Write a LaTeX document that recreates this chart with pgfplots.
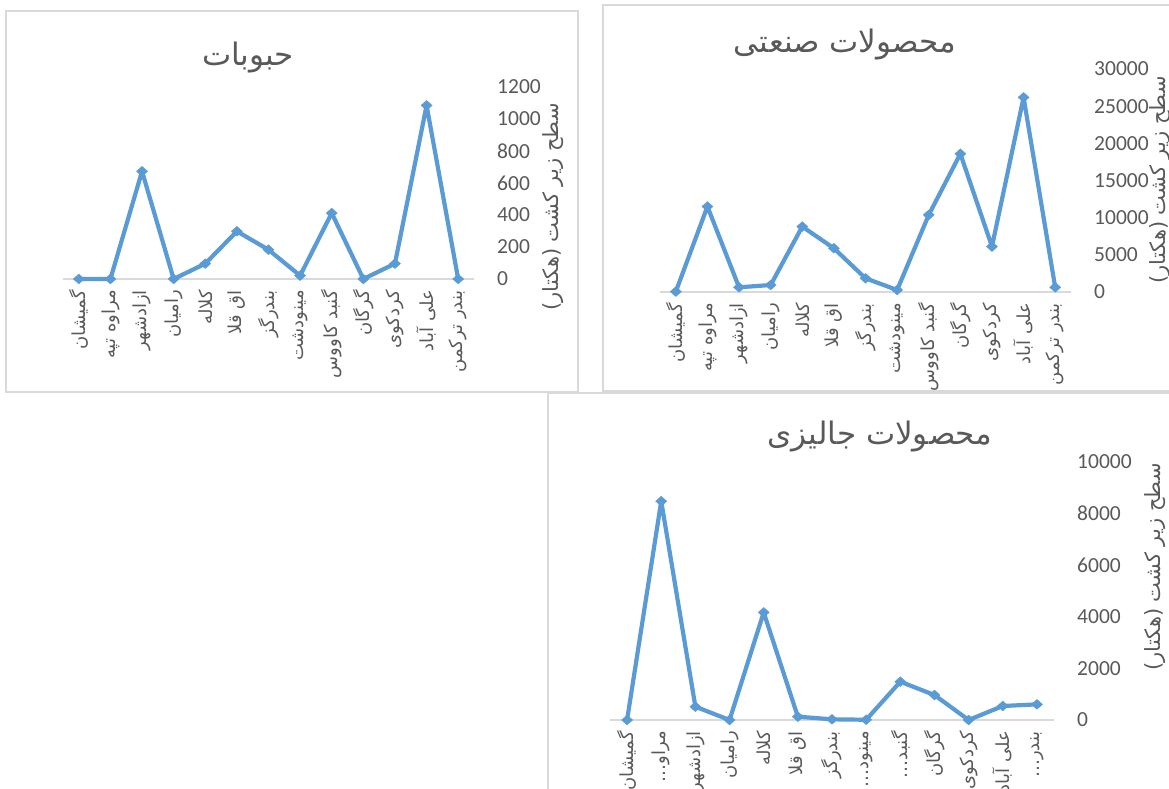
\documentclass[border=0pt]{standalone}
\usepackage{fontspec}
\usepackage{pgfplots}
\pgfplotsset{compat=1.18}
\setmainfont{Carlito}
\newfontfamily\fa[Script=Arabic]{DejaVu Sans}
\TeXXeTstate=1
\definecolor{ln}{RGB}{91,155,213}
\definecolor{txt}{RGB}{89,89,89}
\definecolor{brd}{RGB}{217,217,217}

\pgfplotstableread{
x y
0 0
1 0
2 673
3 0
4 96
5 298
6 183
7 21
8 412
9 0
10 96
11 1085
12 0
}\grains
\pgfplotstableread{
x y
0 50
1 11500
2 630
3 940
4 8800
5 5880
6 1840
7 270
8 10370
9 18590
10 6110
11 26180
12 630
}\industrial
\pgfplotstableread{
x y
0 0
1 8480
2 516
3 0
4 4170
5 129
6 26
7 10
8 1484
9 968
10 0
11 542
12 606
}\jalizi

\pgfplotsset{
  excel/.style={
    scale only axis,
    anchor=south west,
    xmin=-0.5, xmax=12.5,
    ymin=0,
    axis x line=bottom,
    axis y line=right,
    axis line style={-},
    x axis line style={draw=brd, line width=1.5pt},
    y axis line style={draw=none},
    major tick length=0pt,
    xtick={0,...,12},
    xticklabel style={font=\fa\fontsize{18}{18}\selectfont, text=txt, rotate=90, anchor=east, inner sep=0pt},
    xticklabel shift=11pt,
    yticklabel style={font=\fontsize{21.5}{21.5}\selectfont, text=txt, anchor=west, inner sep=0pt, /pgf/number format/1000 sep={}},
    yticklabel shift=23pt,
    /pgf/number format/assume math mode=true,
    scaled y ticks=false,
    clip=false,
  },
  exl/.style={draw=ln, line width=4.2pt, line join=round, line cap=round, mark=diamond*, mark size=5pt,
    mark options={xscale=1.5, solid, fill=ln, draw=ln, line width=0.3pt}},
}

\begin{document}
\begin{tikzpicture}
\useasboundingbox (0,0) rectangle (1169pt,789pt);
\clip (0,0) rectangle (1169pt,789pt);
% frames
\draw[brd, line width=1.5pt] (6pt,397pt) rectangle (578pt,778pt);
\draw[brd, line width=1.5pt] (603pt,398pt) rectangle (1190pt,784pt);
\draw[brd, line width=1.5pt] (548pt,-20pt) rectangle (1190pt,396pt);

% chart 1
\begin{axis}[excel, at={(63pt,510pt)}, width=411pt, height=192pt,
  ymax=1200, ytick={0,200,...,1200},
  xticklabels={{\beginR گمیشان\endR},{\beginR مراوه تپه\endR},{\beginR ازادشهر\endR},{\beginR رامیان\endR},{\beginR کلاله\endR},{\beginR اق قلا\endR},{\beginR بندرگز\endR},{\beginR مینودشت\endR},{\beginR گنبد کاووس\endR},{\beginR گرگان\endR},{\beginR کردکوی\endR},{\beginR علی آباد\endR},{\beginR بندر ترکمن\endR}}]
\addplot[exl] table[x=x,y=y]{\grains};
\end{axis}
\node[font=\fa\fontsize{31}{31}\selectfont, text=txt] at (248pt,731pt) {\beginR حبوبات\endR};
\node[font=\fa\fontsize{21}{21}\selectfont, text=txt, rotate=90] at (553pt,582pt) {\beginR سطح زیر کشت (هکتار)\endR};

% chart 2
\begin{axis}[excel, at={(660pt,497pt)}, width=411pt, height=223pt,
  ymax=30000, ytick={0,5000,...,30000},
  xticklabels={{\beginR گمیشان\endR},{\beginR مراوه تپه\endR},{\beginR ازادشهر\endR},{\beginR رامیان\endR},{\beginR کلاله\endR},{\beginR اق قلا\endR},{\beginR بندرگز\endR},{\beginR مینودشت\endR},{\beginR گنبد کاووس\endR},{\beginR گرگان\endR},{\beginR کردکوی\endR},{\beginR علی آباد\endR},{\beginR بندر ترکمن\endR}}]
\addplot[exl] table[x=x,y=y]{\industrial};
\end{axis}
\node[font=\fa\fontsize{31}{31}\selectfont, text=txt] at (845pt,744pt) {\beginR محصولات صنعتی\endR};
\node[font=\fa\fontsize{21}{21}\selectfont, text=txt, rotate=90] at (1160pt,609pt) {\beginR سطح زیر کشت (هکتار)\endR};

% chart 3
\begin{axis}[excel, at={(610pt,69pt)}, width=444pt, height=258pt,
  ymax=10000, ytick={0,2000,...,10000},
  xticklabels={{\beginR گمیشان\endR},{\beginR مراو\kern0pt…\endR},{\beginR ازادشهر\endR},{\beginR رامیان\endR},{\beginR کلاله\endR},{\beginR اق قلا\endR},{\beginR بندرگز\endR},{\beginR مینود\kern0pt…\endR},{\beginR گنبد\kern0pt…\endR},{\beginR گرگان\endR},{\beginR کردکوی\endR},{\beginR علی آباد\endR},{\beginR بندر\kern0pt…\endR}}]
\addplot[exl] table[x=x,y=y]{\jalizi};
\end{axis}
\node[font=\fa\fontsize{31}{31}\selectfont, text=txt] at (880pt,352pt) {\beginR محصولات جالیزی\endR};
\node[font=\fa\fontsize{21}{21}\selectfont, text=txt, rotate=90] at (1155pt,222pt) {\beginR سطح زیر کشت (هکتار)\endR};
\end{tikzpicture}
\end{document}
